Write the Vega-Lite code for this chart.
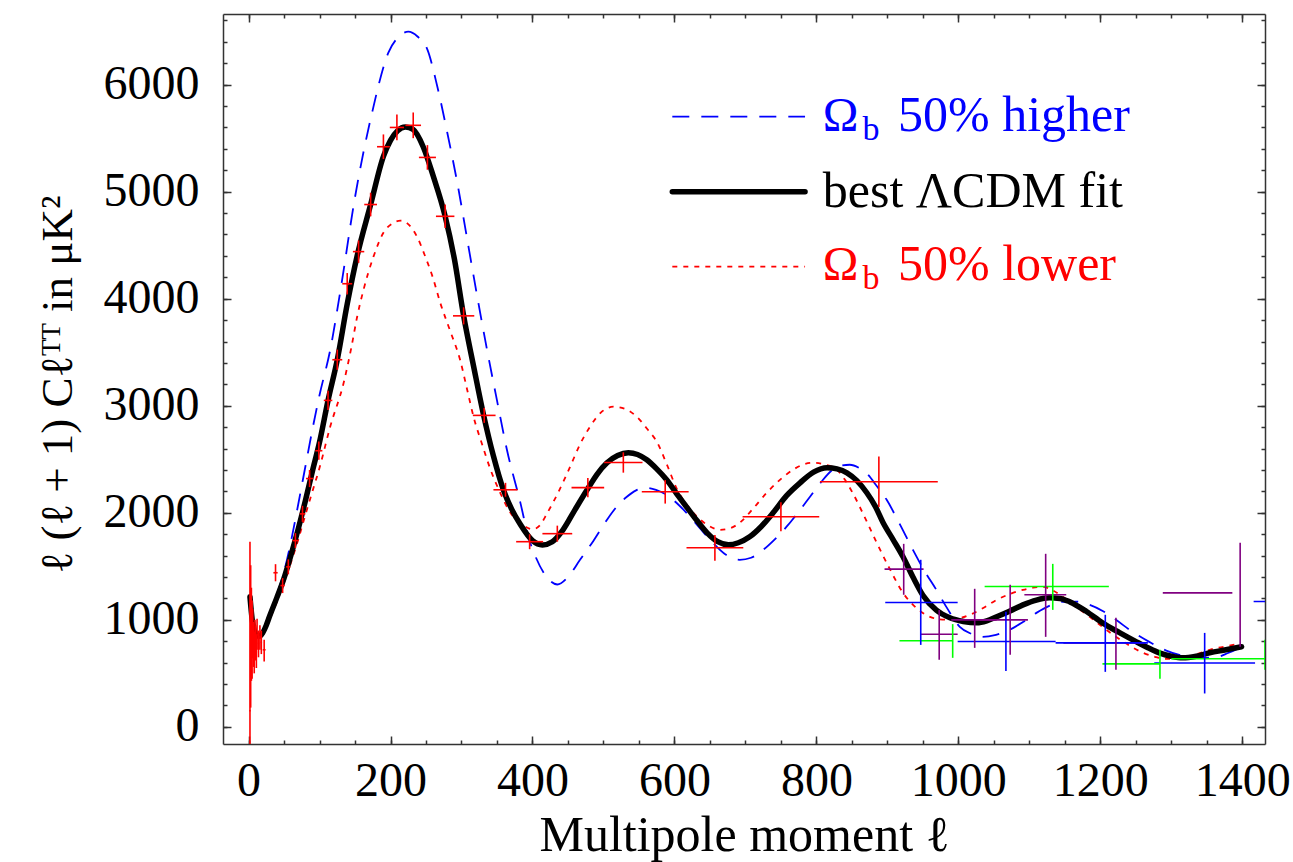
{
  "$schema": "https://vega.github.io/schema/vega-lite/v6.json",
  "width": 1042,
  "height": 730,
  "autosize": {"type": "none"},
  "padding": {"left": 223, "top": 14, "right": 28, "bottom": 118},
  "background": "white",
  "config": {
    "view": {"stroke": null},
    "axis": {"labelFont": "Liberation Serif", "titleFont": "Liberation Serif", "domainColor": "#333333", "tickColor": "#333333", "domainWidth": 1.5, "tickWidth": 1.5, "grid": false, "labelColor": "black", "titleColor": "black", "titleFontWeight": "normal", "labelOverlap": false, "labelFlush": false, "format": "d"}
  },
  "datasets": {
    "fit": [
      {"l":2,"c":1215},{"l":5,"c":1010},{"l":8,"c":900},{"l":12,"c":850},{"l":16,"c":850},{"l":20,"c":880},{"l":25,"c":950},{"l":30,"c":1040},{"l":40,"c":1210},{"l":50,"c":1390},{"l":60,"c":1610},{"l":70,"c":1850},{"l":80,"c":2110},{"l":90,"c":2390},{"l":100,"c":2660},{"l":112,"c":3050},{"l":125,"c":3430},{"l":139,"c":3950},{"l":153,"c":4400},{"l":172,"c":4880},{"l":190,"c":5330},{"l":200,"c":5480},{"l":210,"c":5570},{"l":221,"c":5605},{"l":232,"c":5580},{"l":246,"c":5420},{"l":260,"c":5150},{"l":277,"c":4770},{"l":290,"c":4370},{"l":303,"c":3840},{"l":317,"c":3370},{"l":331,"c":2916},{"l":345,"c":2530},{"l":359,"c":2215},{"l":371,"c":2030},{"l":383,"c":1890},{"l":400,"c":1740},{"l":414,"c":1700},{"l":428,"c":1730},{"l":443,"c":1841},{"l":460,"c":2030},{"l":477,"c":2215},{"l":491,"c":2360},{"l":505,"c":2467},{"l":520,"c":2535},{"l":535,"c":2561},{"l":548,"c":2545},{"l":561,"c":2495},{"l":575,"c":2410},{"l":589,"c":2308},{"l":603,"c":2180},{"l":617,"c":2056},{"l":632,"c":1925},{"l":646,"c":1813},{"l":661,"c":1730},{"l":676,"c":1701},{"l":690,"c":1720},{"l":706,"c":1776},{"l":722,"c":1870},{"l":739,"c":2000},{"l":758,"c":2160},{"l":777,"c":2280},{"l":796,"c":2380},{"l":815,"c":2421},{"l":829,"c":2410},{"l":843,"c":2374},{"l":857,"c":2300},{"l":871,"c":2187},{"l":883,"c":2060},{"l":894,"c":1907},{"l":908,"c":1750},{"l":922,"c":1589},{"l":936,"c":1400},{"l":950,"c":1230},{"l":969,"c":1090},{"l":988,"c":1019},{"l":1007,"c":985},{"l":1026,"c":972},{"l":1040,"c":990},{"l":1054,"c":1028},{"l":1072,"c":1080},{"l":1091,"c":1140},{"l":1110,"c":1185},{"l":1128,"c":1206},{"l":1143,"c":1200},{"l":1157,"c":1168},{"l":1180,"c":1080},{"l":1203,"c":972},{"l":1227,"c":880},{"l":1251,"c":794},{"l":1267,"c":740},{"l":1283,"c":692},{"l":1300,"c":660},{"l":1316,"c":645},{"l":1335,"c":660},{"l":1354,"c":692},{"l":1377,"c":720},{"l":1399,"c":748}
    ],
    "hi": [
      {"l":2,"c":1200},{"l":5,"c":1000},{"l":8,"c":890},{"l":12,"c":845},{"l":16,"c":850},{"l":20,"c":875},{"l":25,"c":950},{"l":30,"c":1050},{"l":40,"c":1240},{"l":50,"c":1450},{"l":60,"c":1740},{"l":70,"c":2080},{"l":80,"c":2430},{"l":90,"c":2780},{"l":100,"c":3100},{"l":115,"c":3520},{"l":130,"c":4100},{"l":150,"c":4950},{"l":174,"c":5738},{"l":197,"c":6299},{"l":212,"c":6450},{"l":225,"c":6495},{"l":238,"c":6450},{"l":252,"c":6327},{"l":266,"c":5980},{"l":280,"c":5551},{"l":295,"c":5050},{"l":310,"c":4480},{"l":323,"c":3990},{"l":336,"c":3523},{"l":350,"c":3050},{"l":364,"c":2589},{"l":383,"c":2093},{"l":394,"c":1780},{"l":405,"c":1580},{"l":420,"c":1400},{"l":435,"c":1330},{"l":450,"c":1400},{"l":467,"c":1561},{"l":486,"c":1740},{"l":505,"c":1935},{"l":519,"c":2060},{"l":533,"c":2150},{"l":546,"c":2210},{"l":559,"c":2234},{"l":574,"c":2215},{"l":589,"c":2168},{"l":605,"c":2080},{"l":622,"c":1963},{"l":638,"c":1840},{"l":654,"c":1720},{"l":672,"c":1610},{"l":692,"c":1561},{"l":708,"c":1580},{"l":725,"c":1654},{"l":741,"c":1750},{"l":758,"c":1870},{"l":775,"c":2010},{"l":791,"c":2150},{"l":807,"c":2290},{"l":823,"c":2402},{"l":835,"c":2440},{"l":847,"c":2449},{"l":860,"c":2420},{"l":872,"c":2360},{"l":885,"c":2250},{"l":899,"c":2121},{"l":917,"c":1900},{"l":936,"c":1654},{"l":952,"c":1460},{"l":969,"c":1280},{"l":985,"c":1100},{"l":1002,"c":935},{"l":1018,"c":870},{"l":1034,"c":841},{"l":1053,"c":860},{"l":1072,"c":906},{"l":1091,"c":980},{"l":1110,"c":1065},{"l":1128,"c":1130},{"l":1147,"c":1168},{"l":1166,"c":1170},{"l":1185,"c":1140},{"l":1204,"c":1080},{"l":1222,"c":1000},{"l":1245,"c":890},{"l":1269,"c":794},{"l":1292,"c":715},{"l":1316,"c":665},{"l":1340,"c":645},{"l":1363,"c":650},{"l":1380,"c":690},{"l":1396,"c":738}
    ],
    "lo": [
      {"l":2,"c":1215},{"l":5,"c":1010},{"l":8,"c":900},{"l":12,"c":850},{"l":16,"c":850},{"l":20,"c":870},{"l":25,"c":930},{"l":30,"c":1010},{"l":40,"c":1170},{"l":50,"c":1350},{"l":60,"c":1540},{"l":70,"c":1750},{"l":80,"c":1980},{"l":90,"c":2200},{"l":100,"c":2420},{"l":115,"c":2804},{"l":134,"c":3215},{"l":145,"c":3550},{"l":153,"c":3832},{"l":162,"c":4084},{"l":176,"c":4393},{"l":190,"c":4617},{"l":202,"c":4700},{"l":214,"c":4729},{"l":226,"c":4690},{"l":238,"c":4570},{"l":249,"c":4393},{"l":260,"c":4190},{"l":270,"c":3963},{"l":284,"c":3700},{"l":298,"c":3430},{"l":308,"c":3150},{"l":317,"c":2897},{"l":329,"c":2640},{"l":341,"c":2402},{"l":355,"c":2180},{"l":369,"c":2000},{"l":381,"c":1910},{"l":393,"c":1860},{"l":400,"c":1845},{"l":410,"c":1880},{"l":421,"c":2000},{"l":437,"c":2200},{"l":453,"c":2430},{"l":467,"c":2640},{"l":481,"c":2804},{"l":497,"c":2940},{"l":514,"c":2991},{"l":531,"c":2970},{"l":547,"c":2897},{"l":562,"c":2780},{"l":576,"c":2654},{"l":590,"c":2440},{"l":604,"c":2215},{"l":618,"c":2070},{"l":632,"c":1963},{"l":648,"c":1880},{"l":664,"c":1841},{"l":678,"c":1855},{"l":692,"c":1907},{"l":711,"c":2040},{"l":730,"c":2187},{"l":749,"c":2310},{"l":767,"c":2402},{"l":781,"c":2450},{"l":795,"c":2467},{"l":812,"c":2450},{"l":829,"c":2402},{"l":840,"c":2310},{"l":851,"c":2187},{"l":868,"c":1960},{"l":885,"c":1720},{"l":903,"c":1480},{"l":922,"c":1252},{"l":941,"c":1110},{"l":960,"c":1028},{"l":974,"c":1005},{"l":988,"c":1000},{"l":1002,"c":1015},{"l":1016,"c":1047},{"l":1035,"c":1110},{"l":1054,"c":1187},{"l":1072,"c":1240},{"l":1091,"c":1280},{"l":1105,"c":1300},{"l":1119,"c":1308},{"l":1133,"c":1275},{"l":1147,"c":1215},{"l":1166,"c":1120},{"l":1185,"c":1028},{"l":1204,"c":930},{"l":1222,"c":841},{"l":1241,"c":760},{"l":1260,"c":692},{"l":1277,"c":655},{"l":1293,"c":636},{"l":1307,"c":638},{"l":1321,"c":654},{"l":1338,"c":685},{"l":1354,"c":720},{"l":1375,"c":750},{"l":1396,"c":776}
    ],
    "bars": [
      {"g":"red","l":2,"y":150,"l0":1,"l1":3,"y0":-300,"y1":1730},
      {"g":"red","l":3,"y":620,"l0":2,"l1":4,"y0":180,"y1":1510},
      {"g":"red","l":4,"y":800,"l0":3,"l1":5,"y0":430,"y1":1300},
      {"g":"red","l":5,"y":700,"l0":4,"l1":6,"y0":450,"y1":1180},
      {"g":"red","l":6,"y":870,"l0":5,"l1":7,"y0":640,"y1":1100},
      {"g":"red","l":7,"y":760,"l0":6,"l1":8,"y0":560,"y1":980},
      {"g":"red","l":8,"y":690,"l0":7,"l1":9,"y0":500,"y1":890},
      {"g":"red","l":9,"y":820,"l0":8,"l1":10,"y0":640,"y1":1000},
      {"g":"red","l":10,"y":780,"l0":9,"l1":11,"y0":620,"y1":950},
      {"g":"red","l":11,"y":700,"l0":10,"l1":12,"y0":550,"y1":860},
      {"g":"red","l":12,"y":860,"l0":11,"l1":13,"y0":720,"y1":1010},
      {"g":"red","l":14,"y":780,"l0":13,"l1":15,"y0":650,"y1":900},
      {"g":"red","l":16,"y":840,"l0":15,"l1":17,"y0":720,"y1":950},
      {"g":"red","l":18,"y":790,"l0":17,"l1":19,"y0":680,"y1":900},
      {"g":"red","l":22,"y":720,"l0":20,"l1":24,"y0":610,"y1":815},
      {"g":"red","l":38,"y":1440,"l0":35,"l1":41,"y0":1360,"y1":1520},
      {"g":"red","l":48,"y":1320,"l0":45,"l1":51,"y0":1250,"y1":1390},
      {"g":"red","l":56,"y":1495,"l0":53,"l1":59,"y0":1425,"y1":1565},
      {"g":"red","l":66,"y":1740,"l0":62,"l1":70,"y0":1670,"y1":1810},
      {"g":"red","l":76,"y":1990,"l0":72,"l1":80,"y0":1915,"y1":2065},
      {"g":"red","l":86,"y":2320,"l0":81,"l1":91,"y0":2240,"y1":2400},
      {"g":"red","l":99,"y":2580,"l0":94,"l1":104,"y0":2495,"y1":2665},
      {"g":"red","l":112,"y":3050,"l0":106,"l1":118,"y0":2960,"y1":3140},
      {"g":"red","l":125,"y":3430,"l0":118,"l1":132,"y0":3335,"y1":3525},
      {"g":"red","l":139,"y":4140,"l0":132,"l1":146,"y0":4040,"y1":4240},
      {"g":"red","l":155,"y":4440,"l0":147,"l1":163,"y0":4335,"y1":4545},
      {"g":"red","l":172,"y":4880,"l0":163,"l1":181,"y0":4770,"y1":4990},
      {"g":"red","l":190,"y":5420,"l0":181,"l1":199,"y0":5305,"y1":5535},
      {"g":"red","l":209,"y":5600,"l0":199,"l1":219,"y0":5480,"y1":5720},
      {"g":"red","l":232,"y":5620,"l0":221,"l1":243,"y0":5500,"y1":5740},
      {"g":"red","l":252,"y":5320,"l0":240,"l1":264,"y0":5205,"y1":5435},
      {"g":"red","l":277,"y":4770,"l0":264,"l1":290,"y0":4660,"y1":4880},
      {"g":"red","l":303,"y":3840,"l0":288,"l1":318,"y0":3760,"y1":3920},
      {"g":"red","l":332,"y":2910,"l0":316,"l1":348,"y0":2840,"y1":2980},
      {"g":"red","l":362,"y":2215,"l0":345,"l1":379,"y0":2150,"y1":2280},
      {"g":"red","l":396,"y":1730,"l0":377,"l1":415,"y0":1660,"y1":1800},
      {"g":"red","l":435,"y":1805,"l0":414,"l1":456,"y0":1730,"y1":1880},
      {"g":"red","l":478,"y":2235,"l0":455,"l1":501,"y0":2145,"y1":2325},
      {"g":"red","l":528,"y":2470,"l0":501,"l1":555,"y0":2375,"y1":2565},
      {"g":"red","l":587,"y":2196,"l0":554,"l1":620,"y0":2086,"y1":2306},
      {"g":"red","l":657,"y":1673,"l0":617,"l1":697,"y0":1553,"y1":1793},
      {"g":"red","l":750,"y":1963,"l0":696,"l1":804,"y0":1828,"y1":2098},
      {"g":"red","l":888,"y":2290,"l0":805,"l1":971,"y0":2055,"y1":2525},
      {"g":"purple","l":923,"y":1474,"l0":896,"l1":951,"y0":1234,"y1":1710},
      {"g":"purple","l":973,"y":866,"l0":947,"l1":999,"y0":626,"y1":1093},
      {"g":"purple","l":1023,"y":1000,"l0":990,"l1":1054,"y0":738,"y1":1290},
      {"g":"purple","l":1073,"y":1000,"l0":1030,"l1":1098,"y0":673,"y1":1327},
      {"g":"purple","l":1123,"y":1234,"l0":1093,"l1":1152,"y0":841,"y1":1617},
      {"g":"purple","l":1222,"y":785,"l0":1148,"l1":1264,"y0":533,"y1":1019},
      {"g":"purple","l":1397,"y":1252,"l0":1288,"l1":1386,"y0":748,"y1":1720},
      {"g":"blue","l":947,"y":1162,"l0":897,"l1":999,"y0":766,"y1":1561},
      {"g":"blue","l":1067,"y":797,"l0":999,"l1":1137,"y0":523,"y1":1075},
      {"g":"blue","l":1207,"y":785,"l0":1137,"l1":1267,"y0":514,"y1":1047},
      {"g":"blue","l":1347,"y":597,"l0":1276,"l1":1418,"y0":312,"y1":878},
      {"g":"blue","l":1480,"y":1171,"l0":1416,"l1":1540,"y0":900,"y1":1450},
      {"g":"green","l":992,"y":804,"l0":917,"l1":992,"y0":645,"y1":960},
      {"g":"green","l":1133,"y":1311,"l0":1037,"l1":1212,"y0":1093,"y1":1523},
      {"g":"green","l":1284,"y":589,"l0":1203,"l1":1284,"y0":449,"y1":720},
      {"g":"green","l":1432,"y":636,"l0":1300,"l1":1500,"y0":533,"y1":813}
    ]
  },
  "layer": [
    {
      "data": {"name": "hi"},
      "mark": {"type": "line", "color": "#0000ff", "strokeWidth": 1.8, "strokeDash": [17, 12], "interpolate": "monotone", "clip": true},
      "encoding": {
        "x": {"field": "l", "type": "quantitative", "scale": {"domain": [-36, 1432], "nice": false, "zero": false},
              "axis": {"orient": "bottom", "values": [0,50,100,150,200,250,300,350,400,450,500,550,600,650,700,750,800,850,900,950,1000,1050,1100,1150,1200,1250,1300,1350,1400], "tickSize": -4, "labels": false, "domain": false, "title": null}},
        "y": {"field": "c", "type": "quantitative", "scale": {"domain": [-160, 6660], "nice": false, "zero": false},
              "axis": {"orient": "left", "values": [0,200,400,600,800,1000,1200,1400,1600,1800,2000,2200,2400,2600,2800,3000,3200,3400,3600,3800,4000,4200,4400,4600,4800,5000,5200,5400,5600,5800,6000,6200,6400,6600], "tickSize": -4, "labels": false, "domain": false, "title": null}}
      }
    },
    {
      "data": {"name": "lo"},
      "mark": {"type": "line", "color": "#ff0000", "strokeWidth": 1.8, "strokeDash": [5, 6], "interpolate": "monotone", "clip": true},
      "encoding": {
        "x": {"field": "l", "type": "quantitative", "scale": {"domain": [-36, 1432], "nice": false, "zero": false},
              "axis": {"orient": "top", "values": [0,200,400,600,800,1000,1200,1400], "tickSize": -8, "labels": false, "title": null}},
        "y": {"field": "c", "type": "quantitative", "scale": {"domain": [-160, 6660], "nice": false, "zero": false},
              "axis": {"orient": "right", "values": [0,1000,2000,3000,4000,5000,6000], "tickSize": -8, "labels": false, "title": null}}
      }
    },
    {
      "data": {"name": "fit"},
      "mark": {"type": "line", "color": "#000000", "strokeWidth": 5.5, "strokeCap": "round", "interpolate": "monotone", "clip": true},
      "encoding": {
        "x": {"field": "l", "type": "quantitative", "scale": {"domain": [-36, 1432], "nice": false, "zero": false},
              "axis": {"orient": "bottom", "values": [0,200,400,600,800,1000,1200,1400], "tickSize": -8, "labelPadding": 21, "labelFontSize": 48, "title": "Multipole moment ℓ", "titleFontSize": 50, "titleY": 106, "titleBaseline": "alphabetic"}},
        "y": {"field": "c", "type": "quantitative", "scale": {"domain": [-160, 6660], "nice": false, "zero": false},
              "axis": {"orient": "left", "values": [0,1000,2000,3000,4000,5000,6000], "tickSize": -8, "labelPadding": 32, "labelFontSize": 48, "title": "ℓ (ℓ + 1) Cℓᵀᵀ in μK²", "titleFontSize": 45, "titleX": -152, "titleY": 370, "titleAngle": 270, "titleBaseline": "alphabetic", "titleAlign": "center"}}
      }
    },
    {
      "data": {"name": "bars"},
      "mark": {"type": "rule", "strokeWidth": 1.6, "clip": true},
      "encoding": {
        "x": {"field": "l0", "type": "quantitative", "scale": {"domain": [-36, 1432], "nice": false, "zero": false},
              "axis": {"orient": "top", "values": [0,50,100,150,200,250,300,350,400,450,500,550,600,650,700,750,800,850,900,950,1000,1050,1100,1150,1200,1250,1300,1350,1400], "tickSize": -4, "labels": false, "domain": false, "title": null}},
        "x2": {"field": "l1"},
        "y": {"field": "y", "type": "quantitative", "scale": {"domain": [-160, 6660], "nice": false, "zero": false},
              "axis": {"orient": "right", "values": [0,200,400,600,800,1000,1200,1400,1600,1800,2000,2200,2400,2600,2800,3000,3200,3400,3600,3800,4000,4200,4400,4600,4800,5000,5200,5400,5600,5800,6000,6200,6400,6600], "tickSize": -4, "labels": false, "domain": false, "title": null}},
        "color": {"field": "g", "type": "nominal", "scale": {"domain": ["red", "blue", "purple", "green"], "range": ["#ff0000", "#0000ff", "#800080", "#00ff00"]}, "legend": null}
      }
    },
    {
      "data": {"name": "bars"},
      "mark": {"type": "rule", "strokeWidth": 1.6, "clip": true},
      "encoding": {
        "x": {"field": "l", "type": "quantitative", "scale": {"domain": [-36, 1432], "nice": false, "zero": false}, "axis": null},
        "y": {"field": "y0", "type": "quantitative", "scale": {"domain": [-160, 6660], "nice": false, "zero": false}, "axis": null},
        "y2": {"field": "y1"},
        "color": {"field": "g", "type": "nominal", "scale": {"domain": ["red", "blue", "purple", "green"], "range": ["#ff0000", "#0000ff", "#800080", "#00ff00"]}, "legend": null}
      }
    },
    {
      "data": {"values": [{}]},
      "mark": {"type": "rule", "color": "#0000ff", "strokeWidth": 1.8, "strokeDash": [17, 12]},
      "encoding": {
        "x": {"datum": 597, "type": "quantitative", "scale": {"domain": [-36, 1432], "nice": false, "zero": false}, "axis": null},
        "x2": {"datum": 784},
        "y": {"datum": 5701, "type": "quantitative", "scale": {"domain": [-160, 6660], "nice": false, "zero": false}, "axis": null}
      }
    },
    {
      "data": {"values": [{}]},
      "mark": {"type": "rule", "color": "#000000", "strokeWidth": 5.5, "strokeCap": "round"},
      "encoding": {
        "x": {"datum": 597, "type": "quantitative", "scale": {"domain": [-36, 1432], "nice": false, "zero": false}, "axis": null},
        "x2": {"datum": 784},
        "y": {"datum": 5000, "type": "quantitative", "scale": {"domain": [-160, 6660], "nice": false, "zero": false}, "axis": null}
      }
    },
    {
      "data": {"values": [{}]},
      "mark": {"type": "rule", "color": "#ff0000", "strokeWidth": 1.8, "strokeDash": [5, 6]},
      "encoding": {
        "x": {"datum": 597, "type": "quantitative", "scale": {"domain": [-36, 1432], "nice": false, "zero": false}, "axis": null},
        "x2": {"datum": 784},
        "y": {"datum": 4299, "type": "quantitative", "scale": {"domain": [-160, 6660], "nice": false, "zero": false}, "axis": null}
      }
    },
    {
      "data": {"values": [{}]},
      "mark": {"type": "text", "text": "Ω", "align": "left", "baseline": "alphabetic", "font": "Liberation Serif", "fontSize": 48, "color": "#0000ff"},
      "encoding": {
        "x": {"datum": 809, "type": "quantitative", "scale": {"domain": [-36, 1432], "nice": false, "zero": false}, "axis": null},
        "y": {"datum": 5570, "type": "quantitative", "scale": {"domain": [-160, 6660], "nice": false, "zero": false}, "axis": null}
      }
    },
    {
      "data": {"values": [{}]},
      "mark": {"type": "text", "text": "b", "align": "left", "baseline": "alphabetic", "font": "Liberation Serif", "fontSize": 34, "color": "#0000ff"},
      "encoding": {
        "x": {"datum": 865, "type": "quantitative", "scale": {"domain": [-36, 1432], "nice": false, "zero": false}, "axis": null},
        "y": {"datum": 5486, "type": "quantitative", "scale": {"domain": [-160, 6660], "nice": false, "zero": false}, "axis": null}
      }
    },
    {
      "data": {"values": [{}]},
      "mark": {"type": "text", "text": "50% higher", "align": "left", "baseline": "alphabetic", "font": "Liberation Serif", "fontSize": 50, "color": "#0000ff"},
      "encoding": {
        "x": {"datum": 915, "type": "quantitative", "scale": {"domain": [-36, 1432], "nice": false, "zero": false}, "axis": null},
        "y": {"datum": 5570, "type": "quantitative", "scale": {"domain": [-160, 6660], "nice": false, "zero": false}, "axis": null}
      }
    },
    {
      "data": {"values": [{}]},
      "mark": {"type": "text", "text": "best ΛCDM fit", "align": "left", "baseline": "alphabetic", "font": "Liberation Serif", "fontSize": 50, "color": "#000000"},
      "encoding": {
        "x": {"datum": 809, "type": "quantitative", "scale": {"domain": [-36, 1432], "nice": false, "zero": false}, "axis": null},
        "y": {"datum": 4860, "type": "quantitative", "scale": {"domain": [-160, 6660], "nice": false, "zero": false}, "axis": null}
      }
    },
    {
      "data": {"values": [{}]},
      "mark": {"type": "text", "text": "Ω", "align": "left", "baseline": "alphabetic", "font": "Liberation Serif", "fontSize": 48, "color": "#ff0000"},
      "encoding": {
        "x": {"datum": 809, "type": "quantitative", "scale": {"domain": [-36, 1432], "nice": false, "zero": false}, "axis": null},
        "y": {"datum": 4178, "type": "quantitative", "scale": {"domain": [-160, 6660], "nice": false, "zero": false}, "axis": null}
      }
    },
    {
      "data": {"values": [{}]},
      "mark": {"type": "text", "text": "b", "align": "left", "baseline": "alphabetic", "font": "Liberation Serif", "fontSize": 34, "color": "#ff0000"},
      "encoding": {
        "x": {"datum": 865, "type": "quantitative", "scale": {"domain": [-36, 1432], "nice": false, "zero": false}, "axis": null},
        "y": {"datum": 4093, "type": "quantitative", "scale": {"domain": [-160, 6660], "nice": false, "zero": false}, "axis": null}
      }
    },
    {
      "data": {"values": [{}]},
      "mark": {"type": "text", "text": "50% lower", "align": "left", "baseline": "alphabetic", "font": "Liberation Serif", "fontSize": 50, "color": "#ff0000"},
      "encoding": {
        "x": {"datum": 915, "type": "quantitative", "scale": {"domain": [-36, 1432], "nice": false, "zero": false}, "axis": null},
        "y": {"datum": 4178, "type": "quantitative", "scale": {"domain": [-160, 6660], "nice": false, "zero": false}, "axis": null}
      }
    }
  ],
  "resolve": {"axis": {"x": "independent", "y": "independent"}}
}
